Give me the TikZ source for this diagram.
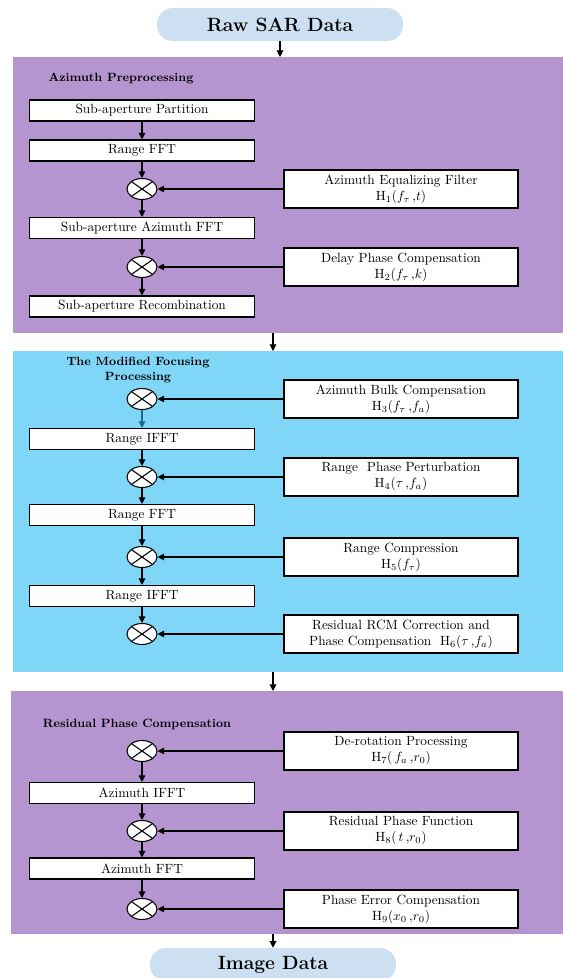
\documentclass[tikz,border=0pt]{standalone}
\usetikzlibrary{arrows.meta,shapes.geometric}
\definecolor{panelpurple}{RGB}{181,149,207}
\definecolor{panelblue}{RGB}{128,214,247}
\definecolor{pillblue}{RGB}{204,224,242}
\definecolor{tealarrow}{RGB}{31,106,140}
\tikzset{
  stage/.style={draw, fill=white, line width=0.8pt, minimum width=168.75pt, minimum height=15.75pt, inner sep=1pt},
  filterbox/.style={draw, fill=white, line width=0.8pt, minimum width=175.5pt, minimum height=28.5pt, align=center, inner sep=1pt},
  mixer/.style={draw, fill=white, ellipse, line width=0.8pt, minimum width=22.5pt, minimum height=15.75pt, inner sep=0pt,
    path picture={\draw[line width=0.8pt] (path picture bounding box.north west) -- (path picture bounding box.south east)
      (path picture bounding box.north east) -- (path picture bounding box.south west);}},
  terminal/.style={fill=pillblue, rounded corners=12pt, minimum width=184.5pt, minimum height=24.75pt, font=\Large\bfseries},
  flow/.style={-{Triangle[length=5pt,width=5pt]}, line width=0.8pt},
  paneltitle/.style={font=\small\bfseries, align=center}
}
\begin{document}
\begin{tikzpicture}[x=0.75pt,y=-0.75pt]
    \useasboundingbox (0,0) rectangle (563,978);
    % panels
    \fill[panelpurple] (13,57) rectangle (563,333);
    \fill[panelblue] (13,351) rectangle (563,672);
    \fill[panelpurple] (11,691) rectangle (563,934);
    \coordinate (aIn) at (280,57);
    \coordinate (aOut) at (273,333);
    \coordinate (bIn) at (273,351);
    \coordinate (bOut) at (273,672);
    \coordinate (cIn) at (273,691);
    \coordinate (cOut) at (273,934);

    \node[terminal] (raw) at (280,24.5) {Raw SAR Data};
    \node[terminal] (img) at (273,964.5) {Image Data};

    % azimuth preprocessing
    \node[paneltitle] (ta) at (121,79) {Azimuth Preprocessing};
    \node[stage] (a1) at (142,110.5) {Sub-aperture Partition};
    \node[stage] (a2) at (142,150.5) {Range FFT};
    \node[mixer] (am1) at (142,189) {};
    \node[stage] (a3) at (142,228) {Sub-aperture Azimuth FFT};
    \node[mixer] (am2) at (142,267) {};
    \node[stage] (a4) at (142,306.5) {Sub-aperture Recombination};
    \node[filterbox] (h1) at (401,189) {Azimuth Equalizing Filter\\H$_1$($f_\tau$\,,$t$)};
    \node[filterbox] (h2) at (401,267) {Delay Phase Compensation\\H$_2$($f_\tau$\,,$k$)};

    % modified focusing
    \node[paneltitle] (tb) at (138,370) {The Modified Focusing\\Processing};
    \node[mixer] (bm1) at (142,399) {};
    \node[stage] (b1) at (142,439) {Range IFFT};
    \node[mixer] (bm2) at (142,477) {};
    \node[stage] (b2) at (142,515) {Range FFT};
    \node[mixer] (bm3) at (142,557) {};
    \node[stage] (b3) at (142,596) {Range IFFT};
    \node[mixer] (bm4) at (142,634) {};
    \node[filterbox] (h3) at (401,399) {Azimuth Bulk Compensation\\H$_3$($f_\tau$\,,$f_a$)};
    \node[filterbox] (h4) at (401,477) {Range\ \ Phase Perturbation\\H$_4$($\tau$\,,$f_a$)};
    \node[filterbox] (h5) at (401,557) {Range Compression\\H$_5$($f_\tau$)};
    \node[filterbox] (h6) at (401,634) {Residual RCM Correction and\\Phase Compensation\ \ H$_6$($\tau$\,,$f_a$)};

    % residual phase compensation
    \node[paneltitle] (tc) at (137,724) {Residual Phase Compensation};
    \node[mixer] (cm1) at (142,751) {};
    \node[stage] (c1) at (142,793) {Azimuth IFFT};
    \node[mixer] (cm2) at (142,831) {};
    \node[stage] (c2) at (142,868.5) {Azimuth FFT};
    \node[mixer] (cm3) at (142,909) {};
    \node[filterbox] (h7) at (401,751) {De-rotation Processing\\H$_7$(\,$f_a$\,,$r_0$)};
    \node[filterbox] (h8) at (401,831) {Residual Phase Function\\H$_8$(\,$t$\,,$r_0$)};
    \node[filterbox] (h9) at (401,909) {Phase Error Compensation\\H$_9$($x_0$\,,$r_0$)};

    % connectors
    \draw[flow] (raw) -- (aIn);
    \draw[flow] (aOut) -- (bIn);
    \draw[flow] (bOut) -- (cIn);
    \draw[flow] (cOut) -- (img);

    \draw[flow] (a1) -- (a2);
    \draw[flow] (a2) -- (am1);
    \draw[flow] (am1) -- (a3);
    \draw[flow] (a3) -- (am2);
    \draw[flow] (am2) -- (a4);
    \draw[flow] (h1) -- (am1);
    \draw[flow] (h2) -- (am2);

    \draw[flow,tealarrow] (bm1) -- (b1);
    \draw[flow] (b1) -- (bm2);
    \draw[flow] (bm2) -- (b2);
    \draw[flow] (b2) -- (bm3);
    \draw[flow] (bm3) -- (b3);
    \draw[flow] (b3) -- (bm4);
    \draw[flow] (h3) -- (bm1);
    \draw[flow] (h4) -- (bm2);
    \draw[flow] (h5) -- (bm3);
    \draw[flow] (h6) -- (bm4);

    \draw[flow] (cm1) -- (c1);
    \draw[flow] (c1) -- (cm2);
    \draw[flow] (cm2) -- (c2);
    \draw[flow] (c2) -- (cm3);
    \draw[flow] (h7) -- (cm1);
    \draw[flow] (h8) -- (cm2);
    \draw[flow] (h9) -- (cm3);
\end{tikzpicture}
\end{document}
